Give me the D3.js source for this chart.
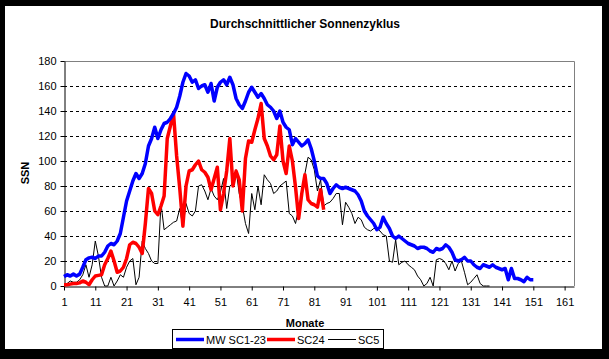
<!DOCTYPE html>
<html><head><meta charset="utf-8">
<script src="https://cdn.jsdelivr.net/npm/d3@7"></script>
<style>body{margin:0;background:#000;}svg{display:block;}text{font-family:"Liberation Sans",Arial,sans-serif;}</style>
</head><body><svg id="c" width="609" height="359"></svg>
<script>
const title = "Durchschnittlicher Sonnenzyklus";
const xLabel = "Monate";
const yLabel = "SSN";
const seriesNames = ["MW SC1-23", "SC24", "SC5"];
const xTicks = [1, 11, 21, 31, 41, 51, 61, 71, 81, 91, 101, 111, 121, 131, 141, 151, 161];
const yTicks = [0, 20, 40, 60, 80, 100, 120, 140, 160, 180];
const mwSC1_23 = [7.5,9,8,9.5,8,9.5,15,21,22.5,23,22,24,24,27,32,34,33,36,42,55,68,76,84,90,86,90,98,112,118,127,118,125,130,131,134,138,143,152,163,170,168,163,165,158,160,161,155,162,148,159,163,165,161,167,161,150,145,142,148,155,159,155,151,154,150,145,143,140,134,140,131,127,125,113,118,115,112,114,117,110,100,88,86,86,82,74,78,81,79,78,79,78,77,76,73,68,60,56,53,50,45,47,55,50,46,40,38,40,38,36,34,33,32,30,31,31,30,28,27,30,29,30,33,31,27,21,20,21,23,20,20,17,15,14,17,16,15,17,15,14,13,14,5,14,6,6,5,3.5,7,5,5];
const sc24 = [1,1,1.5,2,2,2.5,4,3,1,5,8,8.5,9,17,22,28,20,11,12,15,22,33,35,34,31,26,50,78,74,60,57,64,72,118,128,138,104,78,48,80,92,93,97,100,93,91,87,77,86,95,61,74,92,118,80,92,85,60,102,116,115,125,134,146,118,112,104,101,105,128,100,90,112,100,79,54,74,89,69,66,65,63,77,61];
const sc5 = [0,2,4,3,3,5,9,17,7,17,36,24,7,0,0,7,0,4,9,7,15,20,22,1,7,36,30,26,20,18,18,66,45,47,49,51,52,62,47,66,58,56,60,80,81,76,69,78,72,69,75,86,62,80,82,93,74,64,50,42,74,61,80,65,89,85,82,74,76,80,82,84,58,56,50,62,74,90,103,101,93,76,85,64,66,67,70,74,74,49,67,63,58,50,55,53,47,45,44,46,46,44,41,40,20,19,37,17,19,20,17,15,13,8,5,0,2,7,0,21,22,21,18,13,20,12,18,20,11,1,3,6,9,2,0,0,0];
const colors = ["#0000ff", "#ff0000", "#000000"];
const widths = [3.5, 3.5, 1];

const svg = d3.select("#c");
svg.append("rect").attr("x",5).attr("y",6).attr("width",597).attr("height",343).attr("fill","#fff");

const L = 64, R = 574, T = 61, B = 286;
const x = d3.scaleLinear().domain([1,164]).range([L,R]);
const y = d3.scaleLinear().domain([0,180]).range([B,T]);

svg.append("text").attr("x",305).attr("y",28).attr("text-anchor","middle")
  .attr("font-size",12).attr("font-weight","bold").text(title);

// grid
svg.append("g").selectAll("line").data(yTicks.filter(v=>v>0 && v<180)).join("line")
  .attr("x1",L).attr("x2",R).attr("y1",d=>y(d)+0.5).attr("y2",d=>y(d)+0.5)
  .attr("stroke","#000").attr("stroke-dasharray","3,3").attr("stroke-width",1);
// border top/right
svg.append("path").attr("d",`M${L},${T+0.5}H${R+0.5}V${B}`).attr("fill","none").attr("stroke","#808080");

const gx = svg.append("g").attr("transform",`translate(0,${B+0.5})`)
  .call(d3.axisBottom(x).tickValues(xTicks).tickSize(4).tickSizeOuter(0).tickPadding(8));
const gy = svg.append("g").attr("transform",`translate(${L+0.5},0)`)
  .call(d3.axisLeft(y).tickValues(yTicks).tickSize(4).tickSizeOuter(0).tickPadding(4));
[gx,gy].forEach(g=>{
  g.selectAll("text").attr("font-size",11).attr("font-family","Liberation Sans, Arial").attr("fill","#000");
  g.select(".domain").attr("stroke","#000");
  g.selectAll(".tick line").attr("stroke","#000");
});

const line = d3.line().x((d,i)=>x(i+1)).y(d=>y(d));
const data = [sc5, sc24, mwSC1_23];
const order = [2,1,0];
data.forEach((arr,k)=>{
  const s = order[k];
  svg.append("path").datum(arr).attr("d",line).attr("fill","none")
    .attr("stroke",colors[s]).attr("stroke-width",widths[s]).attr("stroke-linejoin","round");
});

svg.append("text").attr("x",305).attr("y",327).attr("text-anchor","middle")
  .attr("font-size",11).attr("font-weight","bold").text(xLabel);
svg.append("text").attr("transform","translate(29,173) rotate(-90)").attr("text-anchor","middle")
  .attr("font-size",11).attr("font-weight","bold").text(yLabel);

// legend
const lg = svg.append("g");
lg.append("rect").attr("x",172.5).attr("y",329.5).attr("width",211).attr("height",19)
  .attr("fill","#fff").attr("stroke","#000");
const lx = [176, 267, 328];
seriesNames.forEach((n,i)=>{
  lg.append("line").attr("x1",lx[i]).attr("x2",lx[i]+28).attr("y1",339.5).attr("y2",339.5)
    .attr("stroke",colors[i]).attr("stroke-width",widths[i]);
  lg.append("text").attr("x",lx[i]+30).attr("y",343.5).attr("font-size",11).text(n);
});
</script></body></html>
